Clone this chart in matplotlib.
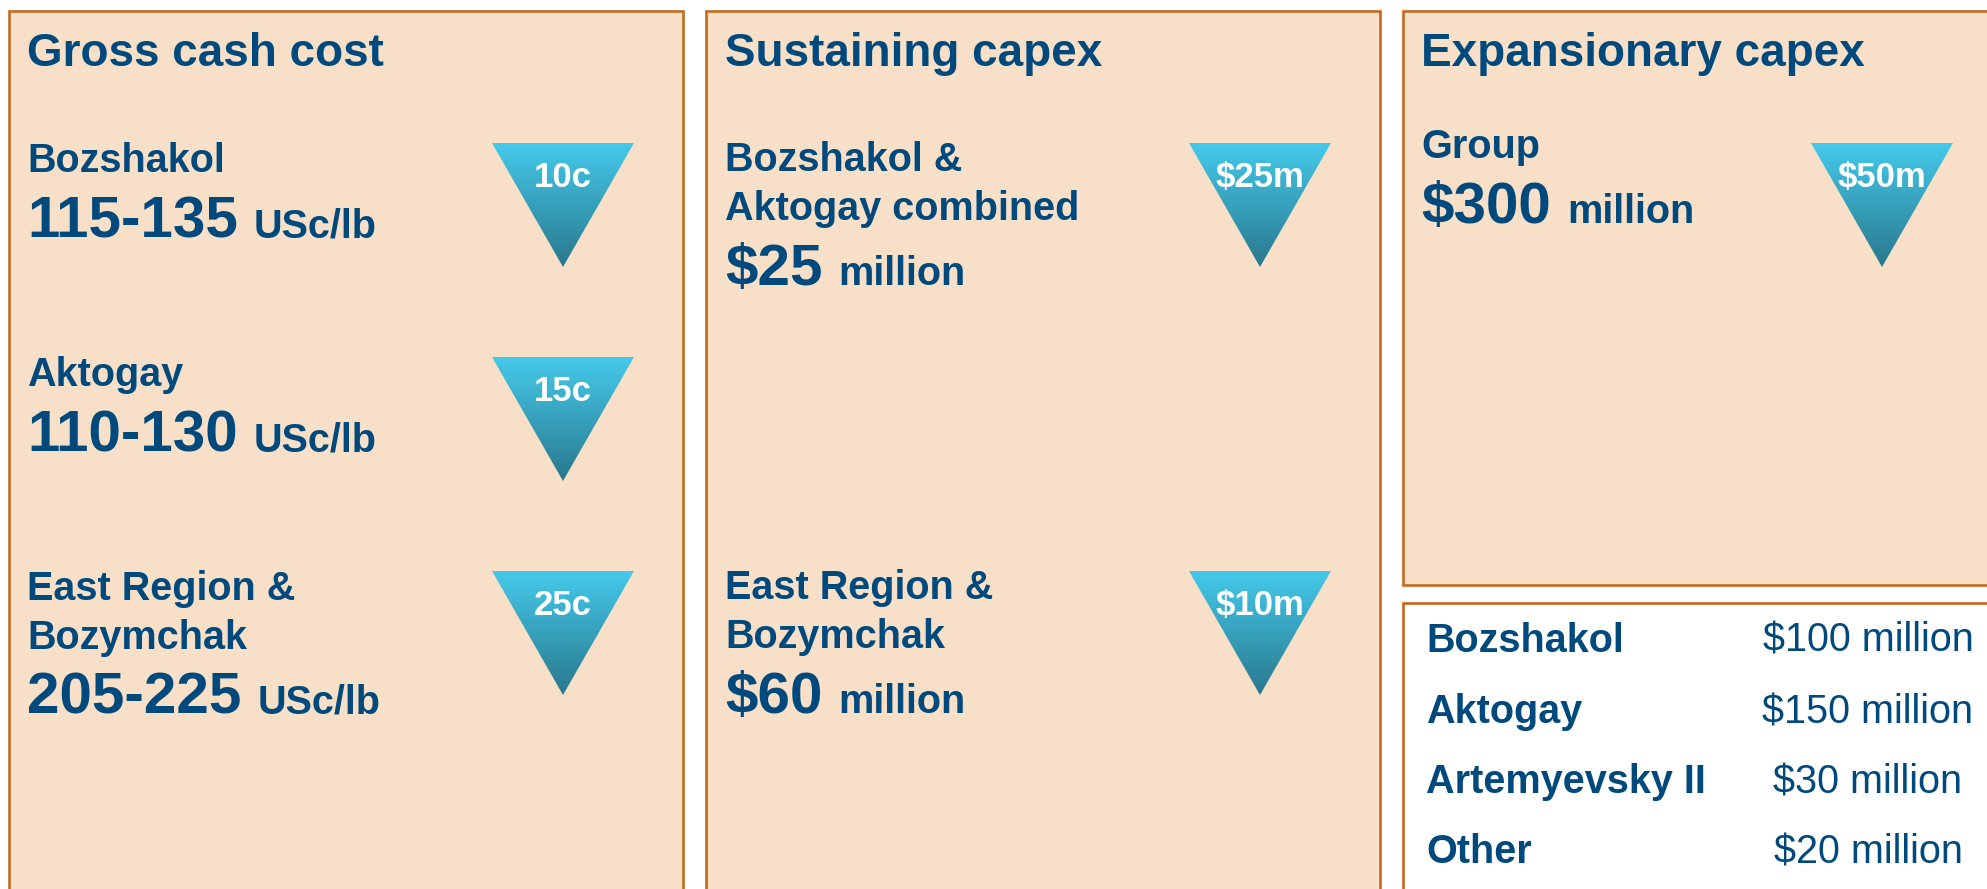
import matplotlib
matplotlib.use("Agg")
import matplotlib.pyplot as plt
import numpy as np
from matplotlib.patches import Rectangle, Polygon

# ---------------- data ----------------
panel_titles = ["Gross cash cost", "Sustaining capex", "Expansionary capex"]

cash_cost_sites = [["Bozshakol"], ["Aktogay"], ["East Region &", "Bozymchak"]]
cash_cost_ranges = ["115-135", "110-130", "205-225"]
cash_cost_unit = "USc/lb"
cash_cost_cuts = [10, 15, 25]          # reduction, USc/lb

sustaining_sites = [["Bozshakol &", "Aktogay combined"], ["East Region &", "Bozymchak"]]
sustaining_values = [25, 60]           # $ million
sustaining_cuts = [25, 10]             # reduction, $ million

expansion_sites = [["Group"]]
expansion_values = [300]               # $ million
expansion_cuts = [50]                  # reduction, $ million

breakdown_names = ["Bozshakol", "Aktogay", "Artemyevsky II", "Other"]
breakdown_values = [100, 150, 30, 20]  # $ million

# ---------------- style ----------------
plt.rcParams['font.family'] = ['Liberation Sans', 'DejaVu Sans']
TXT = "#00497D"
FILL = "#F8E0C8"
EDGE = "#C46A1E"
TRI_TOP = np.array([0.27, 0.79, 0.92])
TRI_BOT = np.array([0.16, 0.47, 0.55])

W, H = 1987, 889
fig = plt.figure(figsize=(W / 100, H / 100), dpi=100)
ax = fig.add_axes([0, 0, 1, 1])
ax.set_xlim(0, W)
ax.set_ylim(H, 0)
ax.axis("off")
renderer = fig.canvas.get_renderer()

# ---------------- boxes ----------------
lw = 1.9
boxes = [
    (9, 11, 674, 950, FILL),
    (706, 11, 674, 950, FILL),
    (1403, 11, 700, 574, FILL),
    (1403, 603, 700, 400, "white"),
]
for x, y, w, h, fc in boxes:
    ax.add_patch(Rectangle((x, y), w, h, facecolor=fc, edgecolor=EDGE, lw=lw, zorder=1))

# ---------------- helpers ----------------
def triangle(cx, top, label, w=142, h=124):
    poly = Polygon([(cx - w / 2, top), (cx + w / 2, top), (cx, top + h)], closed=True,
                   transform=ax.transData, facecolor="none", edgecolor="none")
    ax.add_patch(poly)
    g = np.linspace(0, 1, 256)[:, None, None]
    img = TRI_TOP * (1 - g) + TRI_BOT * g
    im = ax.imshow(img, extent=(cx - w / 2, cx + w / 2, top + h, top), origin="upper",
                   aspect="auto", interpolation="bilinear", zorder=3)
    im.set_clip_path(poly)
    ax.text(cx, top + 44, label, ha="center", va="baseline", color="white",
            fontsize=25, fontweight="bold", zorder=4)


def value_unit(x, y, num, unit, gap=16):
    t = ax.text(x, y, num, fontsize=42, fontweight="bold", color=TXT, va="baseline", zorder=4)
    bb = t.get_window_extent(renderer)
    ax.text(bb.x1 + gap, y, unit, fontsize=28.5, fontweight="bold", color=TXT,
            va="baseline", zorder=4)


def block(x, first_base, lines, num, unit, cx, top, cut_label):
    y = first_base
    for i, line in enumerate(lines):
        ax.text(x, y, line, fontsize=28.5, fontweight="bold", color=TXT, va="baseline", zorder=4)
        if i < len(lines) - 1:
            y += 49
    value_unit(x, y + 65, num, unit)
    triangle(cx, top, cut_label)

# ---------------- titles ----------------
title_x = [27, 725, 1421]
for tx, title in zip(title_x, panel_titles):
    ax.text(tx, 66, title, fontsize=33, fontweight="bold", color=TXT, va="baseline", zorder=4)

# ---------------- gross cash cost ----------------
row_tops = [143, 357, 571]
for top, lines, rng, cut in zip(row_tops, cash_cost_sites, cash_cost_ranges, cash_cost_cuts):
    block(27, top + 29, lines, rng, cash_cost_unit, 563, top, f"{cut}c")

# ---------------- sustaining capex ----------------
sus_tops = [143, 571]
for top, lines, val, cut in zip(sus_tops, sustaining_sites, sustaining_values, sustaining_cuts):
    block(725, top + 28, lines, f"${val}", "million", 1260, top, f"${cut}m")

# ---------------- expansionary capex ----------------
for lines, val, cut in zip(expansion_sites, expansion_values, expansion_cuts):
    block(1421, 158, lines, f"${val}", "million", 1882, 143, f"${cut}m")

# ---------------- breakdown table ----------------
row_base = [652, 723, 793, 863]
for yb, name, val in zip(row_base, breakdown_names, breakdown_values):
    ax.text(1426, yb, name, fontsize=28.5, fontweight="bold", color=TXT, va="baseline", zorder=4)
    ax.text(1868, yb, f"${val} million", fontsize=28.5, color=TXT, ha="center",
            va="baseline", zorder=4)

ax.set_xlim(0, W)
ax.set_ylim(H, 0)
fig.savefig("out.png", dpi=100)
